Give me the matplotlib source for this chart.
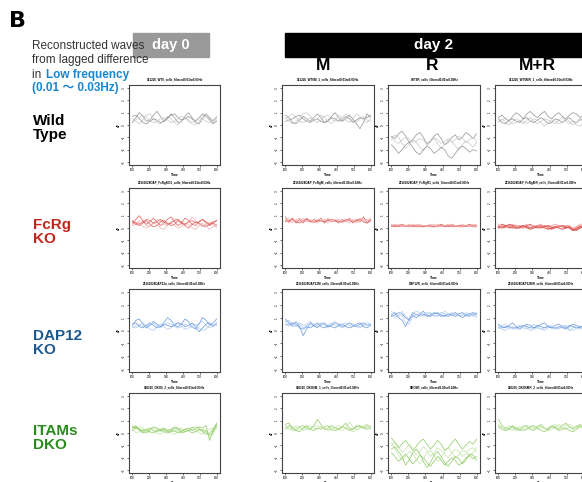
import numpy as np
import matplotlib
matplotlib.use("Agg")
import matplotlib.pyplot as plt
from matplotlib.patches import Rectangle

plt.rcParams["font.family"] = ["Liberation Sans", "Noto Sans CJK JP", "DejaVu Sans"]

W, H = 582, 482

# sample times shared by all traces
TIME = np.linspace(100, 600, 25)

ROW_NAMES = ["Wild\nType", "FcRg\nKO", "DAP12\nKO", "ITAMs\nDKO"]
ROW_COLORS = ["black", "#c0261b", "#1c5a8e", "#2b8a1e"]
TRACE_COLORS = [("#8a8a8a", "#c4c4c4"), ("#d9534f", "#f2a8a8"),
                ("#5b8fd9", "#a9c6ef"), ("#86c75a", "#bfe3a0")]
COL_NAMES = ["M", "R", "M+R"]

PANEL_TITLES = [
    ["151226_WT6_cells_filtered0.01to0.03Hz", "151226_WT6M_1_cells_filtered0.01to0.03Hz",
     "WT6R_cells_filtered0.01to0.03Hz", "151226_WT6MR_1_cells_filtered0.01to0.03Hz"],
    ["20161024DAP_FcRgKO1_cells_filtered0.01to0.03Hz", "20161024DAP_FcRgM_cells_filtered0.01to0.03Hz",
     "20161024DAP_FcRgR1_cells_filtered0.01to0.03Hz", "20161024DAP_FcRgMR_cells_filtered0.01to0.03Hz"],
    ["20161024DAP12a_cells_filtered0.01to0.03Hz", "20161024DAP12M_cells_filtered0.01to0.03Hz",
     "DAP12R_cells_filtered0.01to0.03Hz", "20161024DAP12MR_cells_filtered0.01to0.03Hz"],
    ["160226_DKO6_2_cells_filtered0.01to0.03Hz", "160226_DKO6M_1_cells_filtered0.01to0.03Hz",
     "DKO6R_cells_filtered0.01to0.03Hz", "160226_DKO6MR_2_cells_filtered0.01to0.03Hz"],
]

WT_DAY0 = [
    [0.2,0.6,1.0,0.7,0.3,0.4,0.8,1.1,0.7,0.3,0.5,0.9,0.6,0.2,0.3,0.7,1.0,0.6,0.2,0.1,0.5,0.9,0.6,0.3,0.6],
    [0.5,0.3,0.1,0.4,0.8,0.9,0.5,0.2,0.1,0.4,0.7,0.5,0.2,0.0,0.3,0.6,0.4,0.1,0.0,0.3,0.7,0.9,0.5,0.2,0.4],
    [0.7,0.8,0.5,0.2,0.1,0.3,0.5,0.4,0.2,0.3,0.6,0.8,0.9,0.6,0.4,0.5,0.7,0.5,0.3,0.6,0.9,0.7,0.4,0.1,0.3],
    [0.3,0.4,0.6,0.8,0.6,0.3,0.2,0.3,0.5,0.6,0.4,0.2,0.3,0.5,0.7,0.6,0.3,0.2,0.4,0.6,0.5,0.3,0.2,0.4,0.7],
]
WT_M = [
    [0.8,0.6,0.2,0.1,0.4,0.7,0.5,0.3,0.6,0.9,0.6,0.2,0.3,0.7,1.0,0.6,0.3,0.5,0.8,0.5,0.1,-0.3,0.2,0.9,0.6],
    [0.5,0.7,0.9,0.6,0.3,0.2,0.4,0.6,0.4,0.2,0.4,0.7,0.8,0.5,0.3,0.4,0.6,0.9,0.7,0.3,0.2,0.5,0.7,0.4,0.3],
    [0.3,0.4,0.5,0.7,0.8,0.5,0.3,0.2,0.4,0.5,0.3,0.2,0.4,0.6,0.5,0.3,0.4,0.7,0.5,0.2,0.4,0.6,0.5,0.6,0.8],
    [0.6,0.3,0.1,0.3,0.6,0.9,1.0,0.7,0.4,0.5,0.8,0.6,0.3,0.1,0.4,0.8,0.6,0.4,0.2,0.5,0.9,0.7,0.4,0.2,0.5],
]
WT_R = [
    [-0.9,-1.1,-0.7,-0.5,-0.9,-1.4,-1.2,-0.8,-0.6,-1.0,-1.5,-1.3,-0.9,-0.7,-1.1,-1.6,-1.4,-1.0,-0.8,-1.2,-1.0,-0.6,-0.8,-1.1,-0.7],
    [-1.2,-0.8,-1.0,-1.5,-1.9,-1.6,-1.2,-1.4,-1.8,-2.1,-1.7,-1.3,-1.1,-1.5,-1.9,-1.6,-1.2,-1.3,-1.7,-2.0,-1.6,-1.3,-1.5,-1.8,-1.4],
    [-1.6,-1.9,-2.3,-2.0,-1.6,-1.4,-1.8,-2.2,-2.4,-2.0,-1.7,-1.9,-2.3,-2.1,-1.8,-2.0,-2.5,-2.7,-2.3,-1.9,-1.7,-1.9,-2.2,-2.0,-2.1],
    [-1.0,-1.3,-1.5,-1.2,-1.0,-1.1,-1.4,-1.3,-1.1,-1.2,-1.6,-1.4,-1.0,-1.2,-1.5,-1.3,-1.1,-1.4,-1.2,-0.9,-1.1,-1.4,-1.2,-1.0,-1.3],
]
WT_MR = [
    [0.6,0.8,0.5,0.3,0.7,1.0,0.8,0.5,0.9,1.1,0.8,0.6,0.9,1.1,0.7,0.5,0.8,1.0,0.7,0.5,0.8,1.0,0.9,0.6,0.8],
    [0.3,0.5,0.2,0.0,0.3,0.5,0.3,0.1,0.4,0.6,0.3,0.1,0.3,0.5,0.4,0.2,0.1,0.4,0.6,0.3,0.1,0.3,0.0,-0.1,0.2],
    [0.5,0.2,0.1,0.4,0.5,0.3,0.2,0.5,0.6,0.3,0.2,0.4,0.6,0.4,0.1,0.2,0.5,0.4,0.2,0.4,0.6,0.3,0.2,0.5,0.4],
    [0.2,0.4,0.6,0.3,0.1,0.2,0.4,0.3,0.1,0.3,0.5,0.4,0.2,-0.1,0.2,0.4,0.3,0.1,0.2,0.5,0.3,0.0,0.2,0.4,0.3],
]

FCRG_DAY0 = [
    [0.4,0.7,1.0,0.6,0.3,0.5,0.8,0.5,0.2,0.4,0.7,0.9,0.5,0.2,0.4,0.8,0.6,0.3,0.2,0.5,0.7,0.4,0.2,0.4,0.6],
    [0.2,0.3,0.6,0.5,0.2,0.1,0.4,0.7,0.6,0.3,0.2,0.5,0.8,0.6,0.3,0.2,0.5,0.9,0.6,0.3,0.1,0.3,0.5,0.3,0.0],
    [0.5,0.3,0.2,0.4,0.6,0.3,0.1,0.2,0.5,0.6,0.4,0.2,0.3,0.6,0.5,0.2,0.0,0.3,0.5,0.4,0.2,0.1,0.3,0.4,0.2],
    [0.3,0.5,0.4,0.1,0.0,0.2,0.4,0.3,0.0,-0.1,0.2,0.4,0.2,0.0,0.1,0.4,0.3,0.0,-0.1,0.2,0.4,0.2,-0.1,0.1,0.3],
    [0.6,0.4,0.3,0.5,0.7,0.6,0.4,0.5,0.7,0.5,0.3,0.4,0.6,0.7,0.4,0.3,0.5,0.6,0.4,0.5,0.7,0.5,0.3,0.5,0.6],
]
FCRG_M = [
    [0.9,0.5,0.8,0.4,0.7,0.4,0.8,0.5,0.7,0.5,0.8,0.4,0.7,0.5,0.6,0.4,0.7,0.5,0.8,0.4,0.7,0.5,0.9,0.4,0.7],
    [0.6,0.8,0.4,0.7,0.5,0.8,0.5,0.6,0.4,0.7,0.5,0.7,0.4,0.6,0.5,0.7,0.5,0.6,0.4,0.7,0.5,0.8,0.5,0.7,0.5],
    [0.5,0.6,0.7,0.5,0.4,0.6,0.7,0.5,0.5,0.6,0.6,0.5,0.6,0.7,0.6,0.5,0.5,0.7,0.6,0.5,0.6,0.7,0.5,0.4,0.6],
    [0.7,0.4,0.6,0.6,0.8,0.5,0.6,0.7,0.5,0.4,0.6,0.6,0.8,0.5,0.7,0.6,0.4,0.6,0.7,0.6,0.4,0.6,0.7,0.6,0.8],
]
FCRG_R = [
    [0.2,0.1,0.2,0.3,0.2,0.1,0.1,0.2,0.1,0.1,0.2,0.2,0.1,0.2,0.3,0.2,0.1,0.2,0.2,0.1,0.1,0.2,0.3,0.2,0.2],
    [0.3,0.2,0.2,0.1,0.2,0.3,0.2,0.2,0.3,0.2,0.1,0.2,0.3,0.3,0.2,0.1,0.2,0.3,0.2,0.2,0.3,0.2,0.1,0.2,0.3],
    [0.1,0.2,0.1,0.2,0.1,0.2,0.2,0.1,0.2,0.1,0.2,0.1,0.1,0.1,0.2,0.1,0.2,0.1,0.1,0.2,0.2,0.1,0.2,0.1,0.1],
    [0.2,0.3,0.3,0.2,0.1,0.1,0.3,0.3,0.2,0.2,0.2,0.3,0.2,0.1,0.1,0.2,0.3,0.3,0.2,0.1,0.2,0.2,0.2,0.3,0.2],
]
FCRG_MR = [
    [0.1,0.3,0.2,0.0,0.1,0.2,0.1,0.0,0.2,0.3,0.1,0.0,0.1,0.2,0.0,-0.1,0.1,0.2,0.1,0.0,0.1,-0.2,0.0,0.1,0.2],
    [0.2,0.2,0.1,0.1,0.2,0.1,0.2,0.1,0.1,0.2,0.2,0.1,0.1,0.1,0.2,0.1,0.1,0.2,0.1,0.1,0.0,-0.1,0.1,0.2,0.1],
    [0.0,0.1,0.2,0.1,0.0,0.0,0.1,0.2,0.0,-0.1,0.0,0.2,0.2,0.0,-0.1,0.0,0.1,0.0,-0.1,0.0,0.1,-0.1,-0.2,0.0,0.1],
    [0.3,0.1,0.0,0.2,0.3,0.2,0.0,0.1,0.3,0.2,0.1,0.2,0.3,0.1,0.1,0.2,0.3,0.2,0.1,0.2,0.2,0.0,0.1,0.3,0.3],
    [0.1,0.0,0.1,0.3,0.2,0.0,0.0,0.2,0.1,0.0,0.1,0.1,0.0,0.1,0.2,0.0,0.0,0.1,0.2,0.1,0.0,-0.2,-0.1,0.1,0.0],
]

DAP12_DAY0 = [
    [0.4,0.8,0.9,0.5,0.2,0.4,0.7,0.5,0.3,0.6,1.0,0.8,0.4,0.3,0.5,0.9,0.7,0.3,0.1,0.5,1.0,0.8,0.4,0.6,0.9],
    [0.3,0.2,0.4,0.6,0.4,0.1,0.0,0.3,0.5,0.3,0.1,0.2,0.5,0.6,0.3,0.1,0.2,0.4,0.5,0.2,0.0,0.1,0.4,0.5,0.4],
    [0.5,0.6,0.3,0.2,0.4,0.6,0.4,0.2,0.3,0.5,0.4,0.3,0.4,0.6,0.5,0.3,0.4,0.6,0.3,-0.1,0.2,0.5,0.6,0.3,0.6],
    [0.2,0.4,0.5,0.3,0.3,0.5,0.6,0.4,0.2,0.4,0.6,0.5,0.3,0.2,0.3,0.5,0.4,0.2,0.3,0.6,0.7,0.4,0.2,0.4,0.5],
]
DAP12_M = [
    [0.9,0.6,0.4,0.7,0.3,-0.4,0.1,0.6,0.4,0.2,0.5,0.6,0.3,0.4,0.6,0.5,0.3,0.4,0.6,0.4,0.3,0.5,0.6,0.4,0.5],
    [0.7,0.8,0.5,0.3,0.5,0.2,0.4,0.5,0.3,0.4,0.6,0.4,0.2,0.5,0.7,0.4,0.2,0.4,0.6,0.5,0.3,0.2,0.4,0.6,0.5],
    [0.5,0.4,0.6,0.5,0.2,0.1,0.3,0.2,0.4,0.6,0.3,0.2,0.4,0.3,0.2,0.4,0.5,0.3,0.2,0.3,0.5,0.6,0.3,0.2,0.4],
    [0.8,0.5,0.3,0.4,0.6,0.4,0.5,0.7,0.5,0.3,0.4,0.5,0.4,0.6,0.4,0.3,0.5,0.6,0.4,0.3,0.4,0.3,0.5,0.4,0.3],
]
DAP12_R = [
    [1.2,1.4,1.0,0.8,0.3,0.9,1.4,1.2,1.3,1.5,1.2,1.1,1.3,1.4,1.2,1.1,1.3,1.2,1.1,1.3,1.4,1.2,1.1,1.3,1.2],
    [1.5,1.3,1.1,1.2,0.6,0.5,1.1,1.3,1.1,1.2,1.4,1.3,1.2,1.1,1.3,1.5,1.3,1.2,1.3,1.1,1.2,1.4,1.3,1.1,1.4],
    [1.1,1.2,1.4,1.3,1.0,0.8,1.2,1.0,1.2,1.3,1.1,1.2,1.4,1.3,1.1,1.2,1.1,1.3,1.4,1.2,1.0,1.2,1.3,1.4,1.3],
    [1.3,1.0,1.2,1.5,1.1,0.9,1.3,1.5,1.4,1.1,1.3,1.4,1.1,1.2,1.4,1.3,1.2,1.4,1.2,1.3,1.3,1.1,1.2,1.2,1.0],
]
DAP12_MR = [
    [0.5,0.3,0.2,0.4,0.6,0.3,0.1,0.3,0.5,0.4,0.2,0.3,0.5,0.6,0.3,0.2,0.4,0.5,0.3,0.1,0.3,0.5,0.4,0.2,0.4],
    [0.3,0.4,0.5,0.2,0.1,0.3,0.4,0.2,0.1,0.3,0.5,0.3,0.1,0.2,0.4,0.3,0.1,0.2,0.4,0.3,0.0,0.2,0.4,0.3,0.1],
    [0.2,0.2,0.3,0.3,0.2,0.2,0.3,0.4,0.3,0.2,0.2,0.4,0.3,0.2,0.3,0.2,0.2,0.3,0.2,0.2,0.4,0.3,0.2,0.3,0.3],
    [0.4,0.1,0.0,0.2,0.3,0.1,0.2,0.4,0.2,0.0,0.1,0.2,0.1,0.0,0.2,0.4,0.2,0.1,0.3,0.4,0.1,0.0,0.2,0.1,0.2],
]

ITAMS_DAY0 = [
    [0.4,0.6,0.2,0.0,0.3,0.4,0.2,0.1,0.3,0.4,0.2,0.3,0.5,0.4,0.2,0.3,0.4,0.2,0.3,0.5,0.4,0.6,-0.6,0.2,0.8],
    [0.6,0.3,0.5,0.4,0.1,0.2,0.4,0.3,0.1,0.2,0.3,0.2,0.1,0.3,0.4,0.1,0.2,0.3,0.1,0.2,0.3,0.2,-0.4,-0.1,0.5],
    [0.2,0.5,0.3,0.2,0.3,0.1,0.0,0.2,0.3,0.1,0.0,0.1,0.2,0.0,0.1,0.3,0.2,0.0,0.1,0.3,0.2,0.1,-0.2,0.1,0.6],
    [0.3,0.0,0.1,0.3,0.2,0.0,0.1,0.0,-0.1,0.1,0.2,0.0,-0.1,0.1,0.2,0.1,0.3,0.5,0.3,0.0,-0.1,0.2,0.3,0.4,0.3],
    [0.5,0.4,0.3,0.1,0.0,0.3,0.5,0.4,0.2,0.3,0.1,0.2,0.4,0.3,0.0,0.1,0.2,0.4,0.5,0.4,0.1,-0.1,0.0,0.3,0.7],
]
ITAMS_M = [
    [0.7,0.8,0.3,0.2,0.5,0.6,0.4,0.3,0.6,1.1,0.7,0.3,0.4,0.6,0.4,0.3,0.5,0.8,0.4,0.3,0.6,0.5,0.4,0.6,0.5],
    [0.5,0.3,0.4,0.6,0.4,0.3,0.5,0.6,0.4,0.3,0.5,0.4,0.2,0.4,0.5,0.3,0.2,0.4,0.9,0.5,0.3,0.4,0.6,0.7,0.4],
    [0.3,0.6,0.5,0.2,0.1,0.4,0.6,0.3,0.2,0.4,0.3,0.5,0.6,0.3,0.2,0.3,0.5,0.4,0.2,0.3,0.5,0.6,0.4,0.3,0.4],
    [0.6,0.4,0.2,0.4,0.5,0.2,0.3,0.4,0.5,0.6,0.5,0.4,0.3,0.2,0.4,0.6,0.5,0.4,0.3,0.1,0.2,0.4,0.5,0.4,0.6],
]
ITAMS_R = [
    [-0.4,-0.8,-1.2,-0.9,-0.6,-1.0,-1.4,-1.1,-0.7,-0.5,-0.9,-1.3,-1.0,-0.6,-0.9,-1.4,-1.2,-0.8,-0.5,-0.9,-1.3,-1.0,-0.7,-0.9,-0.5],
    [-1.0,-0.7,-1.1,-1.6,-1.3,-0.9,-1.2,-1.8,-1.5,-1.1,-1.4,-1.9,-1.6,-1.2,-1.4,-1.7,-2.0,-1.6,-1.3,-1.5,-1.9,-1.7,-1.3,-1.2,-1.5],
    [-1.6,-1.9,-2.3,-2.0,-1.7,-2.1,-2.5,-2.2,-1.8,-2.0,-2.4,-2.7,-2.3,-1.9,-2.2,-2.6,-2.3,-2.0,-2.2,-2.6,-2.4,-2.0,-1.8,-2.1,-1.9],
    [-0.8,-1.3,-1.8,-2.2,-1.9,-1.5,-1.7,-2.1,-2.5,-2.1,-1.6,-1.4,-1.8,-2.3,-2.0,-1.5,-1.2,-1.6,-2.0,-1.8,-1.4,-1.5,-1.9,-1.6,-1.2],
    [-1.3,-1.1,-1.5,-1.9,-2.6,-2.2,-1.6,-1.3,-1.7,-2.3,-2.8,-2.4,-1.8,-1.5,-1.9,-2.4,-2.7,-2.3,-1.9,-2.1,-2.5,-2.2,-1.7,-1.8,-2.2],
]
ITAMS_MR = [
    [1.1,0.6,0.3,0.4,0.6,0.3,0.2,0.5,0.6,0.3,0.2,0.5,0.7,0.4,0.3,0.6,0.5,0.3,0.6,0.8,0.5,0.3,0.5,0.7,0.4],
    [0.7,0.4,0.5,0.3,0.2,0.4,0.5,0.3,0.4,0.6,0.4,0.3,0.5,0.4,0.2,0.3,0.5,0.7,0.4,0.3,0.5,0.4,0.6,0.5,0.3],
    [0.5,0.3,0.2,0.3,0.5,0.4,0.3,0.2,0.3,0.5,0.6,0.4,0.2,0.1,0.3,0.5,0.4,0.2,0.3,0.4,0.2,0.1,0.3,0.5,0.6],
    [0.6,0.5,0.4,0.6,0.4,0.2,0.4,0.6,0.5,0.3,0.4,0.6,0.5,0.3,0.4,0.6,0.7,0.5,0.4,0.6,0.7,0.5,0.4,0.6,0.5],
]

PANELS = [
    [WT_DAY0, WT_M, WT_R, WT_MR],
    [FCRG_DAY0, FCRG_M, FCRG_R, FCRG_MR],
    [DAP12_DAY0, DAP12_M, DAP12_R, DAP12_MR],
    [ITAMS_DAY0, ITAMS_M, ITAMS_R, ITAMS_MR],
]

# panel boxes in pixels
COL_X = [(129, 220), (282, 374), (388, 480), (495, 587)]
ROW_Y = [(85, 165), (188, 268), (289, 372), (393, 473)]
LABEL_CENTERS = [128, 232, 343, 438]


def fx(x):
    return x / W


def fy(y):
    return 1 - y / H


fig = plt.figure(figsize=(W / 100, H / 100), dpi=100)

for r in range(4):
    for c in range(4):
        x0, x1 = COL_X[c]
        y0, y1 = ROW_Y[r]
        ax = fig.add_axes([fx(x0), fy(y1), (x1 - x0) / W, (y1 - y0) / H])
        dark, light = TRACE_COLORS[r]
        for i, trace in enumerate(PANELS[r][c]):
            col = dark if i % 2 == 0 else light
            lw = 0.8 if (r == 1 and c == 3) else 0.55
            ax.plot(TIME, trace, color=col, lw=lw, alpha=0.85)
        ax.set_xlim(80, 620)
        ax.set_ylim(-3.24, 3.24)
        ax.set_xticks([100, 200, 300, 400, 500, 600])
        ax.set_yticks([-3, -2, -1, 0, 1, 2, 3])
        ax.tick_params(labelsize=2.2, length=1.5, width=0.4, pad=1)
        for lab in ax.get_yticklabels():
            lab.set_rotation(90)
            lab.set_va("center")
        ax.set_xlabel("Time", fontsize=2.3, labelpad=0.5, fontweight="bold")
        ax.set_ylabel("dF", fontsize=2.3, labelpad=0.5, fontweight="bold")
        ax.set_title(PANEL_TITLES[r][c], fontsize=2.2, pad=3, fontweight="bold")
        for sp in ax.spines.values():
            sp.set_color("#444444")
            sp.set_linewidth(0.8)

# row labels
for r in range(4):
    fig.text(fx(33), fy(LABEL_CENTERS[r]), ROW_NAMES[r], fontsize=11,
             fontweight="bold", color=ROW_COLORS[r], va="center",
             linespacing=0.95)

# header
fig.text(fx(9), fy(27), "B", fontsize=16, fontweight="bold", va="baseline",
         family=["DejaVu Sans"])

fig.patches.append(Rectangle((fx(133), fy(57)), (209 - 133) / W, 24 / H,
                             transform=fig.transFigure, color="#999999", zorder=0))
fig.text(fx(171), fy(45), "day 0", fontsize=10.5, fontweight="bold",
         color="white", ha="center", va="center")
fig.patches.append(Rectangle((fx(285), fy(57)), (600 - 285) / W, 24 / H,
                             transform=fig.transFigure, color="black", zorder=0))
fig.text(fx(434), fy(45), "day 2", fontsize=11, fontweight="bold",
         color="white", ha="center", va="center")

for name, cx in zip(COL_NAMES, [323, 432, 537]):
    fig.text(fx(cx), fy(66), name, fontsize=12.5, fontweight="bold",
             ha="center", va="center")

fig.text(fx(32), fy(49), "Reconstructed waves", fontsize=8.5, color="#333333",
         va="baseline", zorder=5)
fig.text(fx(32), fy(63.5), "from lagged difference", fontsize=8.5, color="#333333",
         va="baseline", zorder=5)
fig.text(fx(32), fy(78), "in ", fontsize=8.5, color="#333333", va="baseline")
fig.text(fx(45.5), fy(78), "Low frequency", fontsize=8.5, color="#1a86cf",
         fontweight="bold", va="baseline")
fig.text(fx(32), fy(91), "(0.01 〜 0.03Hz)", fontsize=8.5, color="#1a86cf",
         fontweight="bold", va="baseline")

fig.savefig("out.png", dpi=100)
